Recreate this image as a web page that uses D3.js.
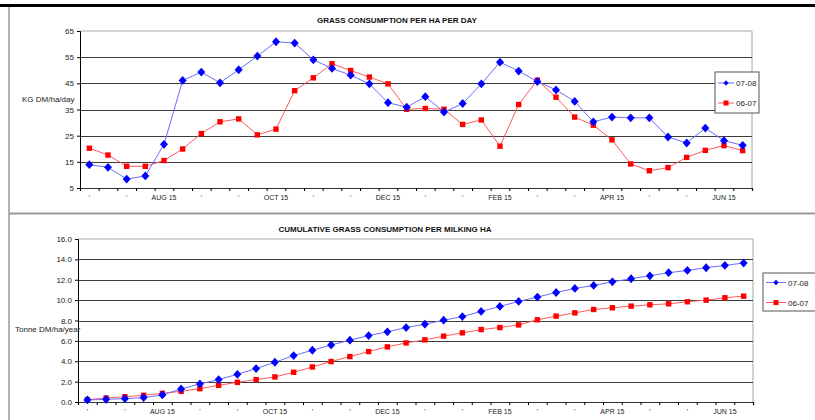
<!DOCTYPE html>
<html>
<head>
<meta charset="utf-8">
<script src="https://cdn.jsdelivr.net/npm/d3@7"></script>
<style>
  body { margin: 0; background: #fff; }
  svg { display: block; font-family: "Liberation Sans", Arial, sans-serif; }
</style>
</head>
<body>
<div id="chart"></div>
<script>
// 10-day periods, Jul 5 .. Jun 25 (only every second one is labelled)
const categories = [
  "'", "'", "'", "'", "AUG 15", "'", "'", "'", "'", "'", "OCT 15", "'",
  "'", "'", "'", "'", "DEC 15", "'", "'", "'", "'", "'", "FEB 15", "'",
  "'", "'", "'", "'", "APR 15", "'", "'", "'", "'", "'", "JUN 15", "'"
];
const seriesNames = ["07-08", "06-07"];

// KG DM/ha/day
const daily0708 = [
  13.9, 12.9, 8.4, 9.6, 21.7, 46.1, 49.3, 45.2, 50.2, 55.4, 60.9, 60.4,
  54.0, 50.7, 48.1, 44.8, 37.6, 35.9, 39.9, 34.0, 37.3, 44.8, 53.1, 49.7,
  45.7, 42.5, 38.1, 30.3, 32.1, 31.8, 31.8, 24.5, 22.2, 27.9, 23.1, 21.3
];
const daily0607 = [
  20.2, 17.6, 13.3, 13.3, 15.5, 19.9, 25.8, 30.3, 31.4, 25.3, 27.5, 42.2,
  47.1, 52.5, 49.9, 47.4, 44.8, 35.1, 35.4, 35.1, 29.3, 31.0, 21.0, 36.9,
  46.2, 39.7, 32.1, 29.0, 23.4, 14.2, 11.6, 12.8, 16.7, 19.4, 21.2, 19.3
];

// Tonne DM/ha/year, cumulative
const cum0708 = [
  0.20, 0.26, 0.33, 0.43, 0.69, 1.28, 1.77, 2.20, 2.72, 3.28, 3.90, 4.56,
  5.08, 5.60, 6.07, 6.52, 6.89, 7.31, 7.64, 8.03, 8.39, 8.89, 9.38, 9.87,
  10.30, 10.75, 11.15, 11.44, 11.80, 12.10, 12.39, 12.69, 12.92, 13.18, 13.41, 13.64
];
const cum0607 = [
  0.23, 0.39, 0.52, 0.66, 0.85, 1.05, 1.31, 1.64, 1.93, 2.20, 2.46, 2.92,
  3.44, 3.97, 4.46, 4.95, 5.41, 5.80, 6.10, 6.46, 6.79, 7.11, 7.31, 7.57,
  8.07, 8.43, 8.75, 9.08, 9.25, 9.41, 9.54, 9.64, 9.84, 10.00, 10.23, 10.39
];

const dailyTicks = [5, 15, 25, 35, 45, 55, 65];
const cumTicks = [0, 2, 4, 6, 8, 10, 12, 14, 16];

const W = 815, H = 420;
const BLUE = "#0000ff", RED = "#ff0000";
const BLUE_LINE = "#6b6bff", RED_LINE = "#ff5a5a";

const svg = d3.select("#chart").append("svg")
  .attr("width", W).attr("height", H);

svg.append("rect").attr("width", W).attr("height", H).attr("fill", "#fff");

// outer frames
svg.append("rect").attr("x", 0).attr("y", 4).attr("width", W).attr("height", 3).attr("fill", "#000");
svg.append("line").attr("x1", 9).attr("x2", 9).attr("y1", 7).attr("y2", H)
  .attr("stroke", "#9a9a9a").attr("stroke-width", 1.5);
svg.append("line").attr("x1", 9).attr("x2", W).attr("y1", 213.5).attr("y2", 213.5)
  .attr("stroke", "#9a9a9a").attr("stroke-width", 2);

const diamond = s => `M0,${-s * 1.1}L${s},0L0,${s * 1.1}L${-s},0Z`;

function drawPanel(cfg) {
  const g = svg.append("g");

  const x = d3.scaleBand().domain(d3.range(categories.length))
    .range([cfg.left, cfg.right]).padding(0);
  const y = d3.scaleLinear().domain(cfg.domain).range([cfg.bottom, cfg.top]);
  const cx = i => x(i) + x.bandwidth() / 2;

  // plot border (top / right)
  g.append("path")
    .attr("d", `M${cfg.left},${cfg.top}H${cfg.right}V${cfg.bottom}`)
    .attr("fill", "none").attr("stroke", "#a8a8a8").attr("stroke-width", 1);

  // gridlines
  g.append("g").selectAll("line")
    .data(cfg.ticks.slice(1, -1))
    .join("line")
    .attr("x1", cfg.left).attr("x2", cfg.right)
    .attr("y1", d => Math.round(y(d)) + 0.5).attr("y2", d => Math.round(y(d)) + 0.5)
    .attr("stroke", "#3c3c3c").attr("stroke-width", 1.2);

  // y axis
  const yAxis = g.append("g")
    .attr("transform", `translate(${cfg.left},0)`)
    .call(d3.axisLeft(y).tickValues(cfg.ticks).tickSize(3).tickPadding(3)
      .tickFormat(d3.format(cfg.fmt)));
  yAxis.select(".domain").attr("stroke", "#000");
  yAxis.selectAll("text").attr("font-size", 8).attr("fill", "#222")
    .attr("font-family", "Liberation Sans, Arial, sans-serif");

  // x axis: boundary ticks
  const xb = d3.scaleLinear().domain([0, categories.length]).range([cfg.left, cfg.right]);
  const xTicks = g.append("g")
    .attr("transform", `translate(0,${cfg.bottom})`)
    .call(d3.axisBottom(xb).tickValues(d3.range(categories.length + 1))
      .tickSize(3).tickFormat(""));
  xTicks.select(".domain").attr("stroke", "#333").attr("stroke-width", 1.2);

  // x axis: labels every second period
  const xLab = g.append("g")
    .attr("transform", `translate(0,${cfg.bottom})`)
    .call(d3.axisBottom(x)
      .tickValues(d3.range(0, categories.length, 2))
      .tickSize(0).tickPadding(7)
      .tickFormat(i => categories[i]));
  xLab.select(".domain").remove();
  xLab.selectAll("text").attr("font-size", 7).attr("fill", "#222")
    .attr("font-family", "Liberation Sans, Arial, sans-serif");

  // title + y label
  g.append("text").attr("x", cfg.titleX).attr("y", cfg.titleY)
    .attr("text-anchor", "middle").attr("font-size", 8).attr("font-weight", "bold")
    .attr("fill", "#111").text(cfg.title);
  g.append("text").attr("x", cfg.yLabelX).attr("y", cfg.yLabelY)
    .attr("font-size", 8).attr("fill", "#222").text(cfg.yLabel);

  const line = d3.line().x((d, i) => cx(i)).y(d => y(d));

  // 06-07 first, 07-08 on top
  g.append("path").datum(cfg.prev).attr("d", line)
    .attr("fill", "none").attr("stroke", RED_LINE).attr("stroke-width", 1);
  g.append("path").datum(cfg.cur).attr("d", line)
    .attr("fill", "none").attr("stroke", BLUE_LINE).attr("stroke-width", 1);

  g.append("g").selectAll("rect")
    .data(cfg.prev).join("rect")
    .attr("x", (d, i) => cx(i) - 2.7).attr("y", d => y(d) - 2.7)
    .attr("width", 5.4).attr("height", 5.4).attr("fill", RED);

  g.append("g").selectAll("path")
    .data(cfg.cur).join("path")
    .attr("transform", (d, i) => `translate(${cx(i)},${y(d)})`)
    .attr("d", diamond(4)).attr("fill", BLUE);

  // legend
  const L = cfg.legend;
  const lg = g.append("g").attr("transform", `translate(${L.x},${L.y})`);
  lg.append("rect").attr("width", L.w).attr("height", L.h)
    .attr("fill", "#fff").attr("stroke", "#555").attr("stroke-width", 1);
  const rows = [
    { name: seriesNames[0], color: BLUE, lineColor: BLUE_LINE, shape: "diamond" },
    { name: seriesNames[1], color: RED, lineColor: RED_LINE, shape: "square" }
  ];
  rows.forEach((r, k) => {
    const ry = L.row0 + k * L.rowGap;
    lg.append("line").attr("x1", 3).attr("x2", 3 + L.lineW)
      .attr("y1", ry).attr("y2", ry)
      .attr("stroke", r.lineColor).attr("stroke-width", 1);
    const mx = 3 + L.lineW / 2;
    if (r.shape === "diamond") {
      lg.append("path").attr("transform", `translate(${mx},${ry})`)
        .attr("d", diamond(2.6)).attr("fill", r.color);
    } else {
      lg.append("rect").attr("x", mx - 2.5).attr("y", ry - 2.5)
        .attr("width", 5).attr("height", 5).attr("fill", r.color);
    }
    lg.append("text").attr("x", 5 + L.lineW).attr("y", ry + 3)
      .attr("font-size", 8).attr("fill", "#222").text(r.name);
  });
}

drawPanel({
  left: 80, right: 752, top: 31, bottom: 188,
  domain: [5, 65], ticks: dailyTicks, fmt: "d",
  cur: daily0708, prev: daily0607,
  title: "GRASS CONSUMPTION  PER HA PER DAY", titleX: 397, titleY: 23,
  yLabel: "KG DM/ha/day", yLabelX: 22, yLabelY: 102,
  legend: { x: 715, y: 72, w: 44, h: 41, row0: 11, rowGap: 20, lineW: 16 }
});

drawPanel({
  left: 78, right: 753, top: 239, bottom: 402,
  domain: [0, 16], ticks: cumTicks, fmt: ".1f",
  cur: cum0708, prev: cum0607,
  title: "CUMULATIVE GRASS CONSUMPTION  PER MILKING HA", titleX: 385, titleY: 232,
  yLabel: "Tonne DM/ha/year", yLabelX: 15, yLabelY: 332,
  legend: { x: 763, y: 273, w: 60, h: 38, row0: 9.5, rowGap: 20, lineW: 20 }
});
</script>
</body>
</html>
